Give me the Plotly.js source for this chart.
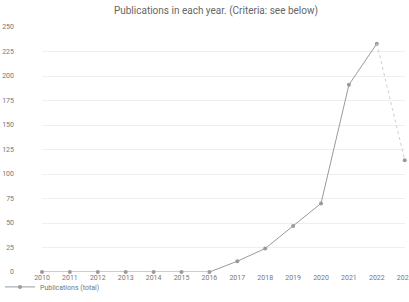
<!DOCTYPE html>
<html>
<head>
<meta charset="utf-8">
<script src="https://cdn.plot.ly/plotly-3.0.1.min.js"></script>
<style>html,body{margin:0;padding:0;background:#fff;}#chart{width:409px;height:302px;}</style>
</head>
<body>
<div id="chart"></div>
<script>
const years = [2010, 2011, 2012, 2013, 2014, 2015, 2016, 2017, 2018, 2019, 2020, 2021, 2022, 2023];
const publications = [0, 0, 0, 0, 0, 0, 0, 11, 24, 47, 70, 191, 233, 114];
const yTicks = [0, 25, 50, 75, 100, 125, 150, 175, 200, 225, 250];
const seriesName = 'Publications (total)';
const titleText = 'Publications in each year. (Criteria: see below)';

const n = years.length;
const lineColor = '#9a9a9a';

const solid = {
  x: years.slice(0, n - 1),
  y: publications.slice(0, n - 1),
  type: 'scatter',
  mode: 'lines+markers',
  name: seriesName,
  line: {color: lineColor, width: 1},
  marker: {color: lineColor, size: 4},
  cliponaxis: false
};
const dashed = {
  x: years.slice(n - 2),
  y: publications.slice(n - 2),
  type: 'scatter',
  mode: 'lines+markers',
  showlegend: false,
  line: {color: '#cfcfcf', width: 1, dash: 'dot'},
  marker: {color: lineColor, size: 4, opacity: [0, 1]},
  cliponaxis: false
};

const layout = {
  width: 409, height: 302,
  margin: {l: 42, r: 4, t: 27, b: 30},
  paper_bgcolor: '#fff', plot_bgcolor: '#fff',
  font: {family: 'Roboto, sans-serif', color: '#777', size: 7},
  title: {text: titleText, font: {size: 10, color: '#666'}, xref: 'container', x: 0.528, xanchor: 'center', yref: 'container', y: 0.965, yanchor: 'middle'},
  xaxis: {
    range: [years[0], years[n - 1] + 0.01],
    tickvals: years, ticktext: years.map(String),
    showgrid: false, zeroline: false, showline: false,
    ticks: '', ticklabelstandoff: 0, ticklabeloverflow: 'allow',
    tickfont: {size: 7, color: '#777'}
  },
  yaxis: {
    range: [0, 250],
    tickvals: yTicks,
    showgrid: true, gridcolor: '#efefef', gridwidth: 1,
    zeroline: false, showline: false, ticks: '',
    ticklabelstandoff: 27,
    tickfont: {size: 7, color: '#777'}
  },
  showlegend: true,
  legend: {
    orientation: 'h', xref: 'container', yref: 'container',
    x: -0.045, xanchor: 'left', y: 0.05, yanchor: 'middle',
    font: {size: 7, color: '#777'}, itemwidth: 30, bgcolor: 'rgba(0,0,0,0)'
  }
};

Plotly.newPlot('chart', [solid, dashed], layout, {displayModeBar: false, staticPlot: true});
</script>
</body>
</html>
